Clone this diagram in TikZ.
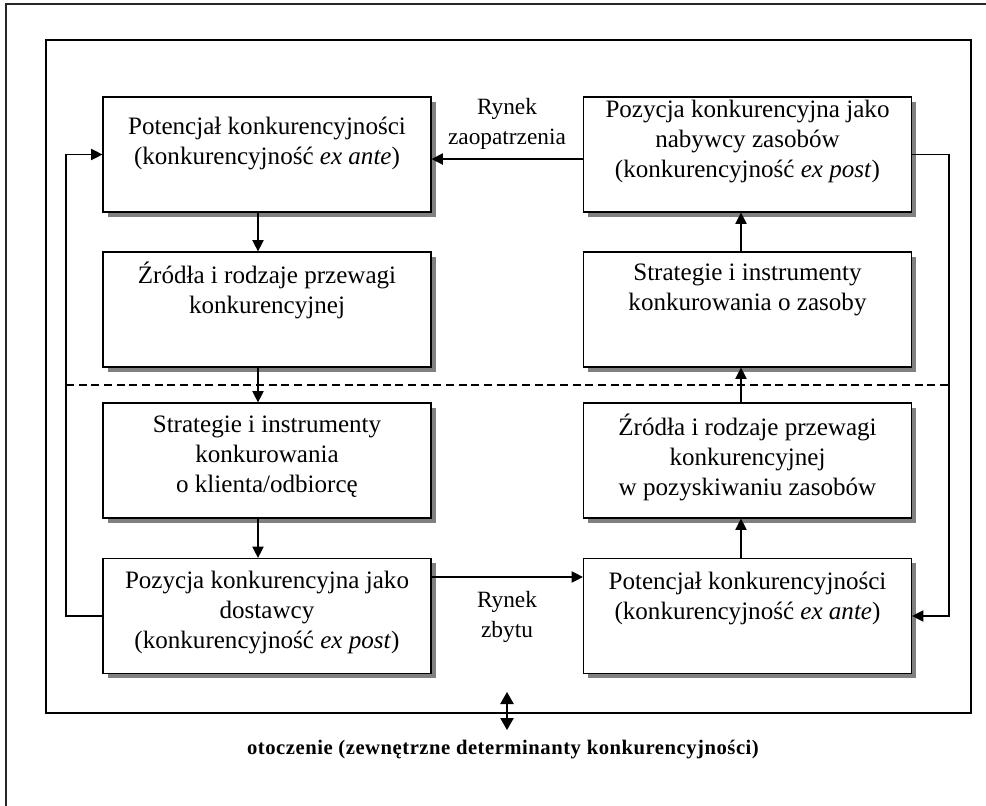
\documentclass[tikz,border=0pt]{standalone}
\usepackage{fontspec}
\setmainfont{Liberation Serif}
\usetikzlibrary{arrows.meta,shadows}

\begin{document}
\begin{tikzpicture}[x=0.75pt,y=-0.75pt,
  frame/.style={line width=1.1pt,draw=black!85},
  box/.style={draw,line width=0.9pt,fill=white,minimum width=246pt,minimum height=86.25pt,inner sep=0pt,
    drop shadow={shadow xshift=3.4pt,shadow yshift=-3.4pt,fill=black!50,opacity=1}},
  boxtext/.style={align=center,inner sep=0pt,font=\fontsize{18.8}{22.5}\selectfont},
  marklabel/.style={align=center,inner sep=0pt,font=\fontsize{17.5}{22.5}\selectfont},
  arr/.style={line width=0.9pt,-{Triangle[length=8.5pt,width=8.5pt]}},
  dblarr/.style={line width=0.9pt,{Triangle[length=9pt,width=10pt]}-{Triangle[length=9pt,width=10pt]}},
  divider/.style={line width=0.9pt,dash pattern=on 6pt off 3.5pt}]
\useasboundingbox (0,0) rectangle (986,806);

% open outer frame: top and left edges only
\coordinate (oBL) at (6,806);
\coordinate (oTL) at (6,4);
\coordinate (oTR) at (986,4);
\draw[frame] (oBL) -- (oTL) -- (oTR);

% inner frame
\coordinate (iTL) at (46,40);
\coordinate (iBR) at (971,713);
\draw[line width=0.9pt] (iTL) rectangle (iBR);

% divider between the two halves
\coordinate (dL) at (66,385);
\coordinate (dR) at (950,385);
\draw[divider] (dL) -- (dR);

% boxes
\node[box] (L1) at (267,154.5) {};
\node[box] (L2) at (267,309.5) {};
\node[box] (L3) at (267,460.5) {};
\node[box] (L4) at (267,616) {};
\node[box] (R1) at (747.5,154.5) {};
\node[box] (R2) at (747.5,309.5) {};
\node[box] (R3) at (747.5,460.5) {};
\node[box] (R4) at (747.5,616) {};

% box texts
\node[boxtext] (tL1) at (267,143) {Potencjał konkurencyjności\\(konkurencyjność \textit{ex ante})};
\node[boxtext] (tL2) at (267,290) {Źródła i rodzaje przewagi\\konkurencyjnej};
\node[boxtext] (tL3) at (267,457) {Strategie i instrumenty\\konkurowania\\o klienta/odbiorcę};
\node[boxtext] (tL4) at (267,613) {Pozycja konkurencyjna jako\\dostawcy\\(konkurencyjność \textit{ex post})};
\node[boxtext] (tR1) at (747.5,142) {Pozycja konkurencyjna jako\\nabywcy zasobów\\(konkurencyjność \textit{ex post})};
\node[boxtext] (tR2) at (747.5,290) {Strategie i instrumenty\\konkurowania o zasoby};
\node[boxtext] (tR3) at (747.5,457) {Źródła i rodzaje przewagi\\konkurencyjnej\\w pozyskiwaniu zasobów};
\node[boxtext] (tR4) at (747.5,598) {Potencjał konkurencyjności\\(konkurencyjność \textit{ex ante})};

% market labels
\node[marklabel] (mSupply) at (507,124) {Rynek\\zaopatrzenia};
\node[marklabel] (mSales) at (507,617) {Rynek\\zbytu};

% vertical flow inside columns
\coordinate (axL) at (258,0);
\coordinate (axR) at (741,0);
\draw[arr] (L1.south -| axL) -- (L2.north -| axL);
\draw[arr] (L2.south -| axL) -- (L3.north -| axL);
\draw[arr] (L3.south -| axL) -- (L4.north -| axL);
\draw[arr] (R4.north -| axR) -- (R3.south -| axR);
\draw[arr] (R3.north -| axR) -- (R2.south -| axR);
\draw[arr] (R2.north -| axR) -- (R1.south -| axR);

% markets between the columns
\draw[arr] ([yshift=-3.4pt]R1.west) -- ([yshift=-3.4pt]L1.east);
\draw[arr] ([yshift=29.25pt]L4.east) -- ([yshift=29.25pt]R4.west);

% feedback loops along the sides
\coordinate (busL) at (66,0);
\coordinate (busR) at (949,0);
\draw[arr] (R1.east) -- (R1.east -| busR) -- (R4.east -| busR) -- (R4.east);
\draw[arr] (L4.west) -- (L4.west -| busL) -- (L1.west -| busL) -- (L1.west);

% environment
\coordinate (envTop) at (507,692);
\coordinate (envBot) at (507,730);
\draw[dblarr] (envTop) -- (envBot);
\node[inner sep=0pt,font=\fontsize{15.5}{18}\selectfont\bfseries\addfontfeatures{LetterSpace=2.5}] (env) at (503,750)
  {otoczenie (zewnętrzne determinanty konkurencyjności)};
\end{tikzpicture}
\end{document}
